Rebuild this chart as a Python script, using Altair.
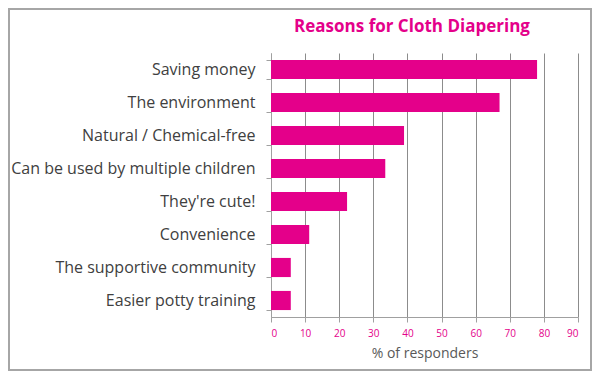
import altair as alt
import pandas as pd

categories = ["Saving money", "The environment", "Natural / Chemical-free",
              "Can be used by multiple children", "They're cute!", "Convenience",
              "The supportive community", "Easier potty training"]
values = [78, 67, 39, 33.5, 22.3, 11.2, 5.8, 5.8]
title_text = "Reasons for Cloth Diapering"

df = pd.DataFrame({"reason": categories, "pct": values})

PINK = "#E4008A"

bars = alt.Chart(df).mark_bar(color=PINK).encode(
    y=alt.Y("reason:N", sort=categories, title=None,
            scale=alt.Scale(paddingInner=0.42, paddingOuter=0.21),
            axis=alt.Axis(labelFont="Open Sans", labelFontSize=16, labelColor="#404040",
                          labelPadding=11, labelLimit=300, domainColor="#A0A0A0",
                          tickColor="#A0A0A0", tickSize=5, tickBand="extent", grid=False)),
    x=alt.X("pct:Q", title="% of responders",
            scale=alt.Scale(domain=[0, 90], nice=False),
            axis=alt.Axis(values=list(range(0, 91, 10)), labelFont="Open Sans", labelFontSize=10,
                          labelColor=PINK, labelPadding=6, titleFont="Open Sans", titleFontSize=14,
                          titleFontWeight="normal", titleColor="#595959", titlePadding=8,
                          domainColor="#A0A0A0", tickColor="#A0A0A0", tickSize=5,
                          grid=True, gridColor="#8C8C8C", gridWidth=1)),
)

title = alt.Chart(pd.DataFrame({"t": [title_text]})).mark_text(
    font="Open Sans", fontSize=17, fontWeight="bold", color=PINK,
    align="center", baseline="middle"
).encode(text="t:N", x=alt.value(141), y=alt.value(-26))

frame = alt.Chart(df).mark_rect(fill=None, stroke="#A6A6A6", strokeWidth=1.5).encode(
    x=alt.value(-262), x2=alt.value(320), y=alt.value(-44), y2=alt.value(317)
)

chart = alt.layer(bars, title, frame).properties(
    width=307, height=264,
    padding={"left": 263, "top": 45, "right": 14, "bottom": 54},
    autosize=alt.AutoSizeParams(type="none"),
).configure_view(stroke=None)

chart.save("out.html", embed_options={"renderer": "svg", "actions": False})
